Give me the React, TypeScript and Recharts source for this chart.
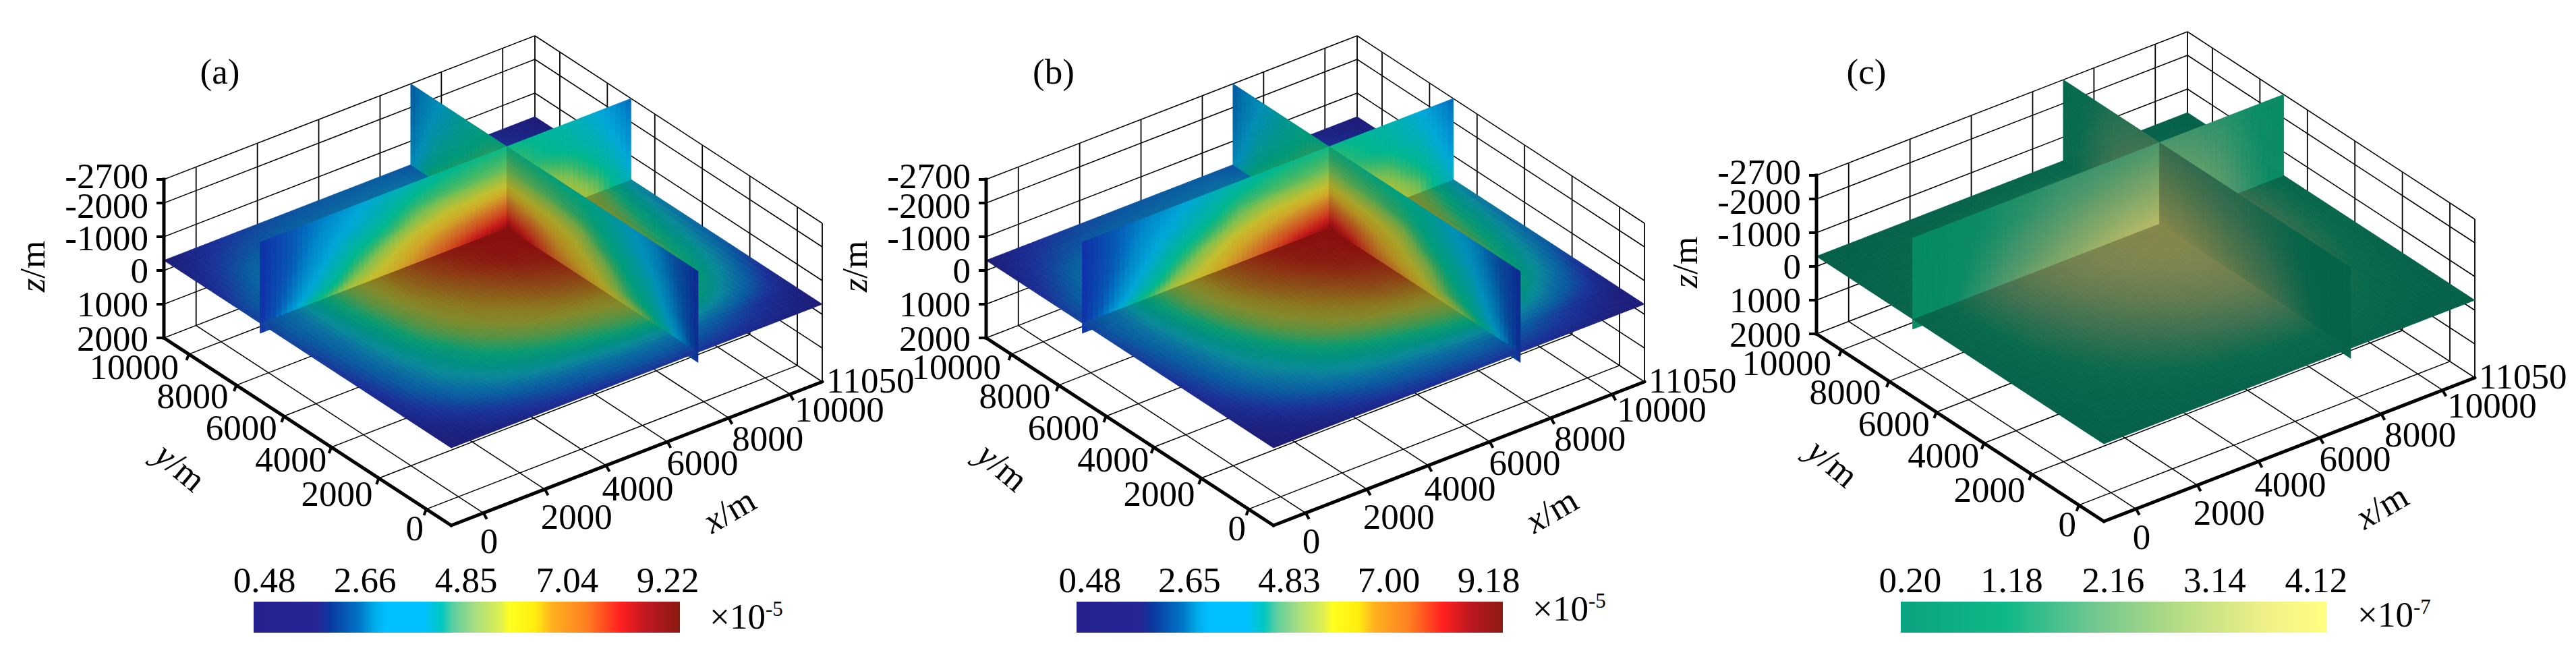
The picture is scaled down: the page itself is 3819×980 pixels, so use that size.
import { Area, AreaChart, Scatter, ScatterChart, XAxis, YAxis } from 'recharts';

const FONT = '"Liberation Serif", "Times New Roman", serif';
const W = 1400;
const H = 960;

// model axes, metres
const gridAxis = [-1050, 0, 1000, 2000, 3000, 4000, 5000, 6000, 7000, 8000, 9000, 10000, 11050];
const depthRows = [-2700, -2000, -1500, -1000, -600, -300, 0];
const planeDepth = -300;
const wallAt = 7000;

const xTicks = [0, 2000, 4000, 6000, 8000, 10000];
const yTicks = [0, 2000, 4000, 6000, 8000, 10000];
const zTicks = [-2700, -2000, -1000, 0, 1000, 2000];

// panel a, x10^-5, rows go with y (plane) or depth (walls), columns with gridAxis
const planeA = [
  [0.48, 0.55, 0.7, 0.85, 1.0, 1.1, 1.2, 1.25, 1.2, 1.05, 0.85, 0.65, 0.48],
  [0.6, 0.95, 1.4, 1.8, 2.1, 2.3, 2.5, 2.6, 2.5, 2.2, 1.7, 1.1, 0.6],
  [0.8, 1.5, 2.3, 3.0, 3.5, 3.8, 4.1, 4.4, 4.6, 4.3, 3.5, 2.3, 0.9],
  [0.9, 2.0, 3.0, 3.8, 4.4, 4.9, 5.3, 5.6, 5.9, 5.6, 4.8, 3.2, 1.4],
  [1.1, 2.2, 3.4, 4.3, 5.2, 5.9, 6.4, 6.8, 7.0, 6.5, 5.4, 3.8, 1.9],
  [1.3, 2.4, 3.7, 4.9, 5.9, 6.6, 7.1, 7.7, 8.0, 7.2, 5.9, 4.1, 2.2],
  [1.4, 2.5, 3.9, 5.2, 6.4, 7.1, 7.8, 8.4, 8.7, 7.8, 6.3, 4.4, 2.5],
  [1.6, 2.6, 4.1, 5.5, 6.8, 7.7, 8.4, 9.0, 9.1, 8.2, 6.8, 4.8, 2.7],
  [1.5, 2.5, 4.2, 5.6, 7.0, 8.0, 8.7, 9.1, 9.22, 8.0, 6.6, 5.4, 3.0],
  [1.4, 2.4, 3.9, 5.0, 6.0, 6.8, 7.4, 8.0, 7.8, 6.8, 5.2, 3.6, 1.9],
  [1.0, 1.9, 2.9, 3.6, 4.4, 5.0, 5.4, 5.6, 5.4, 4.6, 3.5, 2.2, 1.0],
  [0.7, 1.4, 1.9, 2.2, 2.4, 2.6, 2.7, 2.8, 2.7, 2.2, 1.5, 1.0, 0.6],
  [0.48, 0.9, 1.3, 1.6, 1.8, 1.9, 2.0, 2.0, 1.8, 1.3, 0.9, 0.6, 0.48],
];
const wallAlongXA = [
  [1.2, 2.0, 2.5, 3.0, 3.5, 3.9, 4.3, 4.5, 4.5, 4.3, 3.9, 3.2, 2.2],
  [1.2, 2.0, 2.8, 3.4, 4.1, 4.8, 5.0, 5.1, 5.2, 4.6, 4.2, 3.6, 2.5],
  [1.2, 2.1, 3.0, 4.0, 4.7, 5.4, 5.9, 6.0, 6.1, 5.2, 4.8, 4.0, 2.7],
  [1.2, 2.3, 3.4, 4.6, 5.5, 6.3, 6.7, 7.1, 7.4, 5.9, 5.4, 4.5, 3.0],
  [1.2, 2.5, 3.9, 5.2, 6.0, 6.7, 7.4, 8.0, 8.5, 6.8, 5.9, 5.0, 3.3],
  [1.2, 2.9, 4.7, 5.8, 6.3, 7.0, 7.8, 8.8, 9.22, 7.8, 6.3, 5.2, 3.5],
  [1.2, 2.9, 4.7, 5.8, 6.3, 7.0, 7.8, 8.8, 9.22, 7.8, 6.3, 5.2, 3.5],
];
const wallAlongYA = [
  [1.2, 2.0, 2.8, 3.3, 4.0, 4.3, 4.4, 4.5, 4.5, 4.3, 3.8, 3.1, 2.2],
  [1.2, 2.2, 3.1, 3.8, 4.4, 4.8, 5.0, 5.1, 5.2, 4.7, 4.1, 3.3, 2.3],
  [1.2, 2.4, 3.5, 4.2, 4.8, 5.6, 5.9, 6.0, 6.1, 5.0, 4.4, 3.7, 2.4],
  [1.2, 2.6, 3.9, 4.6, 5.5, 6.1, 6.6, 7.1, 7.4, 5.6, 4.9, 4.0, 2.6],
  [1.2, 3.0, 4.3, 5.0, 5.9, 6.5, 7.1, 8.0, 8.5, 6.5, 5.5, 4.5, 2.8],
  [1.2, 3.5, 5.0, 5.8, 6.3, 7.0, 7.5, 8.7, 9.22, 7.8, 6.2, 5.0, 3.0],
  [1.2, 3.5, 5.0, 5.8, 6.3, 7.0, 7.5, 8.7, 9.22, 7.8, 6.2, 5.0, 3.0],
];

// panel b, x10^-5, walls read the same as panel a, the front of the plane sits a little lower
const planeB = [
  [0.48, 0.5, 0.6, 0.75, 0.95, 1.05, 1.15, 1.2, 1.15, 1.0, 0.8, 0.6, 0.48],
  [0.55, 0.8, 1.2, 1.6, 2.0, 2.2, 2.3, 2.4, 2.3, 2.0, 1.5, 1.0, 0.55],
  [0.75, 1.3, 2.0, 2.7, 3.2, 3.5, 3.8, 4.1, 4.3, 4.0, 3.2, 2.1, 0.85],
  [0.9, 1.8, 2.7, 3.4, 4.1, 4.6, 5.0, 5.4, 5.7, 5.4, 4.6, 3.1, 1.3],
  [1.1, 2.1, 3.2, 4.0, 4.9, 5.7, 6.3, 6.7, 6.9, 6.4, 5.3, 3.7, 1.9],
  [1.3, 2.3, 3.5, 4.6, 5.7, 6.5, 7.1, 7.7, 8.0, 7.2, 5.9, 4.1, 2.2],
  [1.4, 2.5, 3.8, 5.1, 6.3, 7.1, 7.8, 8.4, 8.7, 7.8, 6.3, 4.4, 2.5],
  [1.6, 2.6, 4.1, 5.5, 6.8, 7.7, 8.4, 8.9, 9.1, 8.2, 6.8, 4.8, 2.7],
  [1.5, 2.5, 4.2, 5.6, 7.0, 8.0, 8.7, 9.1, 9.18, 8.0, 6.6, 5.4, 3.0],
  [1.4, 2.4, 3.9, 5.0, 6.0, 6.8, 7.4, 8.0, 7.8, 6.8, 5.2, 3.6, 1.9],
  [1.0, 1.9, 2.9, 3.6, 4.4, 5.0, 5.4, 5.6, 5.4, 4.6, 3.5, 2.2, 1.0],
  [0.7, 1.4, 1.9, 2.2, 2.4, 2.6, 2.7, 2.8, 2.7, 2.2, 1.5, 1.0, 0.6],
  [0.48, 0.9, 1.3, 1.6, 1.8, 1.9, 2.0, 2.0, 1.8, 1.3, 0.9, 0.6, 0.48],
];

// panel c, x10^-7
const planeC = [
  [0.2, 0.25, 0.3, 0.35, 0.4, 0.45, 0.5, 0.5, 0.5, 0.4, 0.35, 0.25, 0.2],
  [0.25, 0.35, 0.45, 0.6, 0.7, 0.8, 0.85, 0.9, 0.9, 0.8, 0.6, 0.4, 0.25],
  [0.3, 0.5, 0.7, 0.9, 1.1, 1.3, 1.4, 1.5, 1.5, 1.3, 0.9, 0.6, 0.3],
  [0.35, 0.6, 0.9, 1.2, 1.5, 1.7, 1.9, 2.1, 2.1, 1.8, 1.3, 0.8, 0.4],
  [0.4, 0.7, 1.1, 1.5, 1.8, 2.1, 2.4, 2.6, 2.7, 2.2, 1.6, 1.0, 0.5],
  [0.45, 0.8, 1.3, 1.7, 2.1, 2.5, 2.8, 3.1, 3.2, 2.6, 1.9, 1.2, 0.6],
  [0.5, 0.85, 1.4, 1.9, 2.4, 2.8, 3.2, 3.5, 3.6, 2.9, 2.1, 1.3, 0.7],
  [0.5, 0.9, 1.5, 2.1, 2.6, 3.1, 3.5, 3.9, 4.0, 3.2, 2.3, 1.4, 0.7],
  [0.5, 0.9, 1.5, 2.1, 2.7, 3.2, 3.6, 4.0, 4.12, 3.2, 2.3, 1.4, 0.7],
  [0.45, 0.8, 1.3, 1.8, 2.2, 2.6, 2.9, 3.2, 3.2, 2.5, 1.8, 1.1, 0.6],
  [0.35, 0.6, 0.9, 1.3, 1.6, 1.9, 2.1, 2.3, 2.3, 1.8, 1.3, 0.8, 0.4],
  [0.25, 0.4, 0.6, 0.8, 1.0, 1.2, 1.3, 1.4, 1.4, 1.1, 0.8, 0.5, 0.3],
  [0.2, 0.25, 0.3, 0.35, 0.4, 0.45, 0.5, 0.5, 0.5, 0.4, 0.3, 0.25, 0.2],
];
const wallC = [
  [0.4, 0.6, 0.9, 1.2, 1.4, 1.6, 1.7, 1.8, 1.9, 1.7, 1.4, 1.0, 0.5],
  [0.4, 0.6, 1.0, 1.3, 1.6, 1.9, 2.1, 2.3, 2.4, 2.1, 1.7, 1.1, 0.6],
  [0.4, 0.7, 1.1, 1.5, 1.9, 2.2, 2.5, 2.7, 2.9, 2.4, 1.9, 1.2, 0.6],
  [0.4, 0.7, 1.2, 1.7, 2.1, 2.5, 2.9, 3.2, 3.3, 2.7, 2.1, 1.3, 0.6],
  [0.4, 0.8, 1.3, 1.9, 2.3, 2.8, 3.2, 3.6, 3.8, 3.0, 2.2, 1.4, 0.7],
  [0.4, 0.8, 1.4, 2.0, 2.6, 3.0, 3.5, 3.9, 4.12, 3.1, 2.3, 1.4, 0.7],
  [0.4, 0.8, 1.4, 2.0, 2.6, 3.0, 3.5, 3.9, 4.12, 3.1, 2.3, 1.4, 0.7],
];

const barTicksA = [0.48, 2.66, 4.85, 7.04, 9.22];
const barTicksB = [0.48, 2.65, 4.83, 7.0, 9.18];
const barTicksC = [0.2, 1.18, 2.16, 3.14, 4.12];

// colours, [value, colour]
const wallJet = [
  [0.48, '#20209a'], [1.2, '#1030a8'], [2.0, '#0858b4'], [2.6, '#0088cc'], [3.2, '#00a8d8'],
  [3.8, '#00b0b0'], [4.4, '#00b890'], [4.8, '#30b870'], [5.3, '#80c050'], [6.0, '#c4c030'],
  [6.6, '#d0a828'], [7.2, '#d07c28'], [8.0, '#d04820'], [8.7, '#c41a1a'], [9.22, '#96100f'],
];
const planeJet = [
  [0.48, '#1c1c78'], [1.2, '#1a3098'], [2.0, '#0a5aa0'], [2.6, '#0a70a0'], [3.2, '#0a8a98'],
  [3.8, '#009080'], [4.4, '#0a9a70'], [4.8, '#30985a'], [5.3, '#5a9240'], [6.0, '#828a2c'],
  [6.6, '#8a7a20'], [7.2, '#8b5e18'], [8.0, '#8c3a14'], [8.7, '#8a1a10'], [9.22, '#880f0e'],
];
const wallGreen = [
  [0.2, '#058a62'], [1.0, '#0c8c66'], [1.8, '#46966c'], [2.6, '#74a26a'], [3.4, '#98b068'], [4.12, '#b8ba68'],
];
const planeGreen = [
  [0.2, '#05604a'], [1.0, '#0a6a4c'], [1.8, '#3a7050'], [2.6, '#607a50'], [3.4, '#7a8450'], [4.12, '#85884c'],
];
const barJet = [
  [0, '#25218f'], [0.15, '#252596'], [0.18, '#0a3a9f'], [0.25, '#0078c8'], [0.28, '#00a8e8'], [0.31, '#00c0ff'],
  [0.4, '#00c0ff'], [0.44, '#00c8c0'], [0.47, '#60cfa0'], [0.52, '#a8dd80'], [0.58, '#e0f050'], [0.6, '#ffff20'],
  [0.66, '#ffee10'], [0.7, '#ffb020'], [0.78, '#ff8020'], [0.86, '#ff2020'], [0.92, '#c01820'], [1, '#8a1a10'],
];
const barGreen = [
  [0, '#0aa37f'], [0.25, '#10b888'], [0.45, '#70c690'], [0.65, '#b4dc84'], [0.85, '#eef088'], [1, '#ffff80'],
];

const toRgb = (c) => [1, 3, 5].map((i) => parseInt(c.slice(i, i + 2), 16));
const rampColor = (stops, v, shade) => {
  let k = 0;
  while (k < stops.length - 2 && v > stops[k + 1][0]) k++;
  const [v0, c0] = stops[k];
  const [v1, c1] = stops[k + 1];
  const t = Math.max(0, Math.min(1, (v - v0) / (v1 - v0)));
  const a = toRgb(c0);
  const b = toRgb(c1);
  const m = a.map((p, i) => Math.round((p + (b[i] - p) * t) * shade));
  return `rgb(${m[0]},${m[1]},${m[2]})`;
};

// oblique view of the box, metres to chart units
const project = (x, y, z) => {
  const a = (x + 1050) / 12100;
  const b = (y + 1050) / 12100;
  return [669 + a * 550 - b * 426, 779 - a * 213 - b * 278 - (2000 - z) * 0.05];
};

const surface = (values, us, vs, place, palette, shade, uFrom, uTo, vFrom, vTo) => {
  const out = [];
  for (let j = vFrom; j < vTo; j++) {
    for (let i = uFrom; i < uTo; i++) {
      const p00 = project(...place(us[i], vs[j]));
      const p10 = project(...place(us[i + 1], vs[j]));
      const p01 = project(...place(us[i], vs[j + 1]));
      const p11 = project(...place(us[i + 1], vs[j + 1]));
      out.push({
        sx: p00[0],
        sy: p00[1],
        du: [p10[0] - p00[0], p10[1] - p00[1]],
        dv: [p01[0] - p00[0], p01[1] - p00[1]],
        dw: [p11[0] - p00[0], p11[1] - p00[1]],
        vals: [values[j][i], values[j][i + 1], values[j + 1][i], values[j + 1][i + 1]],
        palette,
        shade,
      });
    }
  }
  return out;
};

const CellMark = ({ cx, cy, payload }) => {
  const { du, dw, dv, vals, palette, shade } = payload;
  const N = 6;
  const polys = [];
  const at = (s, t) => [
    cx + du[0] * s * (1 - t) + dv[0] * (1 - s) * t + dw[0] * s * t,
    cy + du[1] * s * (1 - t) + dv[1] * (1 - s) * t + dw[1] * s * t,
  ];
  for (let a = 0; a < N; a++) {
    for (let b = 0; b < N; b++) {
      const s0 = a / N, s1 = (a + 1) / N, t0 = b / N, t1 = (b + 1) / N;
      const s = (s0 + s1) / 2, t = (t0 + t1) / 2;
      const v = vals[0] * (1 - s) * (1 - t) + vals[1] * s * (1 - t) + vals[2] * (1 - s) * t + vals[3] * s * t;
      const col = rampColor(palette, v, shade);
      const pts = [at(s0, t0), at(s1, t0), at(s1, t1), at(s0, t1)].map((p) => p.join(',')).join(' ');
      polys.push(<polygon key={`${a}-${b}`} points={pts} fill={col} stroke={col} strokeWidth={0.8} />);
    }
  }
  return <g>{polys}</g>;
};

const LineMark = ({ cx, cy, payload }) => (
  <line x1={cx} y1={cy} x2={cx + payload.dx} y2={cy + payload.dy} stroke="#000" strokeWidth={payload.w} strokeLinecap={payload.cap || 'butt'} />
);

const TextMark = ({ cx, cy, payload }) => (
  <text
    x={cx}
    y={cy}
    textAnchor={payload.anchor}
    fontFamily={FONT}
    fontSize={payload.size || 53}
    fill="#000"
    transform={payload.rot ? `rotate(${payload.rot} ${cx} ${cy})` : undefined}
  >
    {payload.italic && <tspan fontStyle="italic">{payload.italic}</tspan>}
    {payload.label}
    {payload.sup && <tspan dy={-19} fontSize={31}>{payload.sup}</tspan>}
  </text>
);

const seg = (p, q, w) => {
  const a = project(...p);
  const b = project(...q);
  return { sx: a[0], sy: a[1], dx: b[0] - a[0], dy: b[1] - a[1], w };
};

const gridSegments = () => {
  const lo = -1050, hi = 11050, zTop = -2700, zFloor = 2000;
  const out = [];
  [...xTicks, hi].forEach((x) => out.push(seg([x, hi, zTop], [x, hi, zFloor], 1.8)));
  [lo, ...yTicks].forEach((y) => out.push(seg([hi, y, zTop], [hi, y, zFloor], 1.8)));
  zTicks.forEach((z) => {
    out.push(seg([lo, hi, z], [hi, hi, z], 1.5));
    out.push(seg([hi, hi, z], [hi, lo, z], 1.5));
  });
  xTicks.forEach((x) => out.push(seg([x, lo, zFloor], [x, hi, zFloor], 1.5)));
  yTicks.forEach((y) => out.push(seg([lo, y, zFloor], [hi, y, zFloor], 1.5)));
  return out;
};

const axisSegments = () => {
  const lo = -1050, hi = 11050, zTop = -2700, zFloor = 2000;
  const out = [
    { ...seg([lo, hi, zTop], [lo, hi, zFloor], 5), cap: 'square' },
    { ...seg([lo, hi, zFloor], [lo, lo, zFloor], 5), cap: 'round' },
    { ...seg([lo, lo, zFloor], [hi, lo, zFloor], 5), cap: 'round' },
  ];
  const tick = (p, dx, dy) => {
    const a = project(...p);
    out.push({ sx: a[0], sy: a[1], dx, dy, w: 4 });
  };
  zTicks.forEach((z) => tick([lo, hi, z], -11, 0));
  yTicks.forEach((y) => tick([lo, y, zFloor], -3.5, 9));
  xTicks.forEach((x) => tick([x, lo, zFloor], 5, 9));
  return out;
};

// label nudges, px from the tick
const zNudge = [-5, 4, 2, 0, 0, 1];
const yNudge = [[-4, 46], [-9, 41], [-7, 36], [-10, 35], [-12, 34], [-15, 37]];
const xNudge = [[-5, 59], [-6, 59], [-6, 52], [-1, 49], [5, 48], [7, 41]];

const tickLabels = () => {
  const lo = -1050, hi = 11050, zFloor = 2000;
  const out = [];
  zTicks.forEach((z, i) => {
    const p = project(lo, hi, z);
    out.push({ sx: 220, sy: p[1] + zNudge[i] + 18, label: String(z), anchor: 'end' });
  });
  yTicks.forEach((y, i) => {
    const p = project(lo, y, zFloor);
    out.push({ sx: p[0] + yNudge[i][0], sy: p[1] + yNudge[i][1], label: String(y), anchor: 'end' });
  });
  xTicks.forEach((x, i) => {
    const p = project(x, lo, zFloor);
    out.push({ sx: p[0] + xNudge[i][0], sy: p[1] + xNudge[i][1], label: String(x), anchor: 'start' });
  });
  const end = project(hi, lo, zFloor);
  out.push({ sx: end[0] + 6, sy: end[1] + 16, label: '11050', anchor: 'start' });
  return out;
};

const axisTitles = [
  { sx: 66, sy: 395, italic: 'z', label: '/m', anchor: 'middle', rot: -90, size: 53 },
  { sx: 256, sy: 706, italic: 'y', label: '/m', anchor: 'middle', rot: 40, size: 53 },
  { sx: 1090, sy: 772, italic: 'x', label: '/m', anchor: 'middle', rot: -30, size: 53 },
];

const Panel = ({ left, top, name, namePos, power, powerPos, plane, wallX, wallY, wallPal, planePal, farShade, nearShade }) => {
  const planeCells = surface(plane, gridAxis, gridAxis, (u, v) => [u, v, planeDepth], planePal, 1, 0, 12, 0, 12);
  const wx = (from, to, r0, r1) => surface(wallX, gridAxis, depthRows, (u, z) => [u, wallAt, z], wallPal, 1, from, to, r0, r1);
  const wy = (from, to, r0, r1, sh) => surface(wallY, gridAxis, depthRows, (u, z) => [wallAt, u, z], wallPal, sh, from, to, r0, r1);
  // painter's order, what lies under the plane first, then the far half of each wall
  const layers = [
    wx(0, 12, 5, 6),
    wy(0, 12, 5, 6, nearShade),
    planeCells,
    wx(8, 12, 0, 5),
    wy(8, 12, 0, 5, farShade),
    wx(0, 8, 0, 5),
    wy(0, 8, 0, 5, nearShade),
  ];
  const notes = [
    { sx: namePos[0], sy: namePos[1], label: name, anchor: 'middle' },
    { sx: powerPos[0], sy: powerPos[1], label: '×10', sup: power, anchor: 'start' },
  ];
  return (
    <div style={{ position: 'absolute', left, top, width: W, height: H }}>
      <ScatterChart width={W} height={H} margin={{ top: 0, right: 0, bottom: 0, left: 0 }}>
        <XAxis type="number" dataKey="sx" domain={[0, W]} hide allowDataOverflow />
        <YAxis type="number" dataKey="sy" domain={[0, H]} reversed hide allowDataOverflow />
        <Scatter data={gridSegments()} shape={LineMark} isAnimationActive={false} />
        {layers.map((cells, i) => (
          <Scatter key={i} data={cells} shape={CellMark} isAnimationActive={false} />
        ))}
        <Scatter data={axisSegments()} shape={LineMark} isAnimationActive={false} />
        <Scatter data={tickLabels()} shape={TextMark} isAnimationActive={false} />
        <Scatter data={axisTitles} shape={TextMark} isAnimationActive={false} />
        <Scatter data={notes} shape={TextMark} isAnimationActive={false} />
      </ScatterChart>
    </div>
  );
};

const ColorBar = ({ id, left, width, ticks, domain, stops }) => {
  const pad = 70;
  return (
    <div style={{ position: 'absolute', left: left - pad, top: 822, width: width + pad * 2, height: 116 }}>
      <AreaChart
        width={width + pad * 2}
        height={116}
        data={[{ v: domain[0], h: 1 }, { v: domain[1], h: 1 }]}
        margin={{ top: 0, right: pad, bottom: 0, left: pad }}
      >
        <defs>
          <linearGradient id={id} x1="0" y1="0" x2="1" y2="0">
            {stops.map(([o, c]) => (
              <stop key={o} offset={`${o * 100}%`} stopColor={c} />
            ))}
          </linearGradient>
        </defs>
        <XAxis
          orientation="top"
          type="number"
          dataKey="v"
          domain={domain}
          ticks={ticks}
          interval={0}
          height={70}
          axisLine={false}
          tickLine={false}
          tickMargin={8}
          tickFormatter={(v) => v.toFixed(2)}
          tick={{ fontFamily: FONT, fontSize: 53, fill: '#000' }}
        />
        <YAxis domain={[0, 1]} hide />
        <Area dataKey="h" type="linear" fill={`url(#${id})`} fillOpacity={1} stroke="none" dot={false} isAnimationActive={false} />
      </AreaChart>
    </div>
  );
};

export default function App() {
  return (
    <div style={{ position: 'absolute', left: 0, top: 0, width: 3819, height: 980, background: '#fff', overflow: 'hidden' }}>
      <Panel left={0} top={0} name="(a)" namePos={[326, 124]} power="-5" powerPos={[1052, 932]}
        plane={planeA} wallX={wallAlongXA} wallY={wallAlongYA} wallPal={wallJet} planePal={planeJet} farShade={0.84} nearShade={0.86} />
      <Panel left={1219} top={0} name="(b)" namePos={[343, 124]} power="-5" powerPos={[1053, 920]}
        plane={planeB} wallX={wallAlongXA} wallY={wallAlongYA} wallPal={wallJet} planePal={planeJet} farShade={0.84} nearShade={0.86} />
      <Panel left={2450} top={-6} name="(c)" namePos={[317, 130]} power="-7" powerPos={[1045, 935]}
        plane={planeC} wallX={wallC} wallY={wallC} wallPal={wallGreen} planePal={planeGreen} farShade={0.76} nearShade={0.72} />
      <ColorBar id="barA" left={376} width={632} ticks={barTicksA} domain={[0.246, 9.483]} stops={barJet} />
      <ColorBar id="barB" left={1596} width={632} ticks={barTicksB} domain={[0.186, 9.489]} stops={barJet} />
      <ColorBar id="barC" left={2818} width={631} ticks={barTicksC} domain={[0.109, 4.218]} stops={barGreen} />
    </div>
  );
}
